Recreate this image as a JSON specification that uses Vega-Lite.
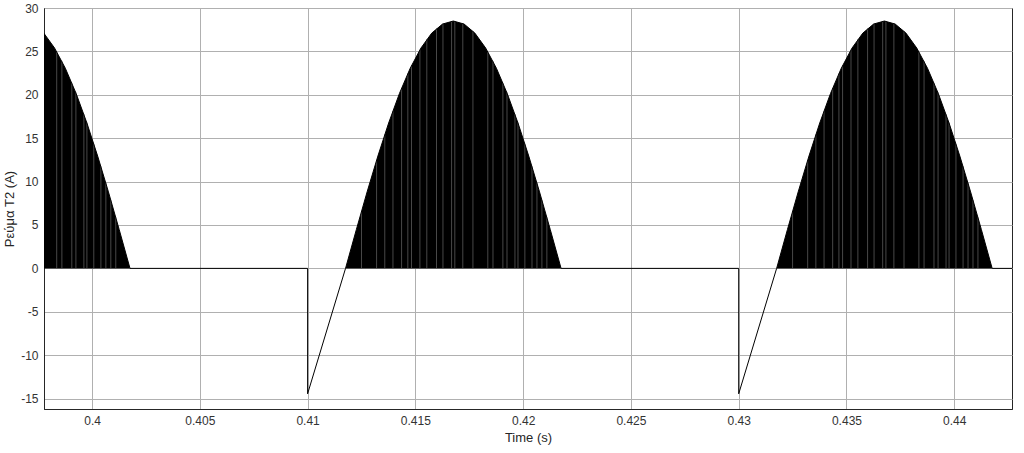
{
  "$schema": "https://vega.github.io/schema/vega-lite/v6.json",
  "width": 968,
  "height": 401,
  "autosize": {"type": "none"},
  "padding": {"left": 44, "top": 8, "right": 12, "bottom": 44},
  "background": "white",
  "config": {
    "view": {"stroke": "#262626", "strokeWidth": 1},
    "axis": {
      "labelFont": "Liberation Sans",
      "labelFontSize": 12,
      "labelColor": "#333333",
      "titleFont": "Liberation Sans",
      "titleFontSize": 13,
      "titleFontWeight": "normal",
      "titleColor": "#262626",
      "gridColor": "#b0b0b0",
      "gridWidth": 1,
      "domainColor": "#262626",
      "ticks": false,
      "labelPadding": 6
    }
  },
  "datasets": {
    "trace": [
      {"n": 1, "t": 0.39776, "i": 27.11},
      {"n": 2, "t": 0.39826, "i": 25.39},
      {"n": 3, "t": 0.39876, "i": 23.06},
      {"n": 4, "t": 0.39926, "i": 20.15},
      {"n": 5, "t": 0.39976, "i": 16.75},
      {"n": 6, "t": 0.40026, "i": 12.94},
      {"n": 7, "t": 0.40076, "i": 8.81},
      {"n": 8, "t": 0.40126, "i": 4.46},
      {"n": 9, "t": 0.40176, "i": 0},
      {"n": 10, "t": 0.41, "i": 0},
      {"n": 11, "t": 0.41, "i": -14.45},
      {"n": 12, "t": 0.41176, "i": 0},
      {"n": 13, "t": 0.41226, "i": 4.46},
      {"n": 14, "t": 0.41276, "i": 8.81},
      {"n": 15, "t": 0.41326, "i": 12.94},
      {"n": 16, "t": 0.41376, "i": 16.75},
      {"n": 17, "t": 0.41426, "i": 20.15},
      {"n": 18, "t": 0.41476, "i": 23.06},
      {"n": 19, "t": 0.41526, "i": 25.39},
      {"n": 20, "t": 0.41576, "i": 27.11},
      {"n": 21, "t": 0.41626, "i": 28.15},
      {"n": 22, "t": 0.41676, "i": 28.5},
      {"n": 23, "t": 0.41726, "i": 28.15},
      {"n": 24, "t": 0.41776, "i": 27.11},
      {"n": 25, "t": 0.41826, "i": 25.39},
      {"n": 26, "t": 0.41876, "i": 23.06},
      {"n": 27, "t": 0.41926, "i": 20.15},
      {"n": 28, "t": 0.41976, "i": 16.75},
      {"n": 29, "t": 0.42026, "i": 12.94},
      {"n": 30, "t": 0.42076, "i": 8.81},
      {"n": 31, "t": 0.42126, "i": 4.46},
      {"n": 32, "t": 0.42176, "i": 0},
      {"n": 33, "t": 0.43, "i": 0},
      {"n": 34, "t": 0.43, "i": -14.45},
      {"n": 35, "t": 0.43176, "i": 0},
      {"n": 36, "t": 0.43226, "i": 4.46},
      {"n": 37, "t": 0.43276, "i": 8.81},
      {"n": 38, "t": 0.43326, "i": 12.94},
      {"n": 39, "t": 0.43376, "i": 16.75},
      {"n": 40, "t": 0.43426, "i": 20.15},
      {"n": 41, "t": 0.43476, "i": 23.06},
      {"n": 42, "t": 0.43526, "i": 25.39},
      {"n": 43, "t": 0.43576, "i": 27.11},
      {"n": 44, "t": 0.43626, "i": 28.15},
      {"n": 45, "t": 0.43676, "i": 28.5},
      {"n": 46, "t": 0.43726, "i": 28.15},
      {"n": 47, "t": 0.43776, "i": 27.11},
      {"n": 48, "t": 0.43826, "i": 25.39},
      {"n": 49, "t": 0.43876, "i": 23.06},
      {"n": 50, "t": 0.43926, "i": 20.15},
      {"n": 51, "t": 0.43976, "i": 16.75},
      {"n": 52, "t": 0.44026, "i": 12.94},
      {"n": 53, "t": 0.44076, "i": 8.81},
      {"n": 54, "t": 0.44126, "i": 4.46},
      {"n": 55, "t": 0.44176, "i": 0},
      {"n": 56, "t": 0.4427, "i": 0}
    ],
    "streaks": [
      {"t": 0.39836, "top": 24.95}, {"t": 0.39860, "top": 23.90}, {"t": 0.39906, "top": 21.38},
      {"t": 0.39925, "top": 20.26}, {"t": 0.39962, "top": 17.78}, {"t": 0.39976, "top": 16.79},
      {"t": 0.40008, "top": 14.34}, {"t": 0.40041, "top": 11.77}, {"t": 0.40064, "top": 9.84},
      {"t": 0.40087, "top": 7.86}, {"t": 0.40110, "top": 5.88},
      {"t": 0.41250, "top": 6.6}, {"t": 0.41320, "top": 12.45}, {"t": 0.41358, "top": 15.44},
      {"t": 0.41396, "top": 18.13}, {"t": 0.41436, "top": 20.78}, {"t": 0.41465, "top": 22.46},
      {"t": 0.41482, "top": 23.38}, {"t": 0.41521, "top": 25.19}, {"t": 0.41553, "top": 26.41},
      {"t": 0.41598, "top": 27.65}, {"t": 0.41628, "top": 28.17}, {"t": 0.41668, "top": 28.49},
      {"t": 0.41683, "top": 28.49}, {"t": 0.41720, "top": 28.22}, {"t": 0.41767, "top": 27.35},
      {"t": 0.41836, "top": 24.95}, {"t": 0.41860, "top": 23.90}, {"t": 0.41906, "top": 21.38},
      {"t": 0.41925, "top": 20.26}, {"t": 0.41962, "top": 17.78}, {"t": 0.41976, "top": 16.79},
      {"t": 0.42008, "top": 14.34}, {"t": 0.42041, "top": 11.77}, {"t": 0.42064, "top": 9.84},
      {"t": 0.42087, "top": 7.86}, {"t": 0.42110, "top": 5.88},
      {"t": 0.43250, "top": 6.6}, {"t": 0.43320, "top": 12.45}, {"t": 0.43358, "top": 15.44},
      {"t": 0.43396, "top": 18.13}, {"t": 0.43436, "top": 20.78}, {"t": 0.43465, "top": 22.46},
      {"t": 0.43482, "top": 23.38}, {"t": 0.43521, "top": 25.19}, {"t": 0.43553, "top": 26.41},
      {"t": 0.43598, "top": 27.65}, {"t": 0.43628, "top": 28.17}, {"t": 0.43668, "top": 28.49},
      {"t": 0.43683, "top": 28.49}, {"t": 0.43720, "top": 28.22}, {"t": 0.43767, "top": 27.35},
      {"t": 0.43836, "top": 24.95}, {"t": 0.43860, "top": 23.90}, {"t": 0.43906, "top": 21.38},
      {"t": 0.43925, "top": 20.26}, {"t": 0.43962, "top": 17.78}, {"t": 0.43976, "top": 16.79},
      {"t": 0.44008, "top": 14.34}, {"t": 0.44041, "top": 11.77}, {"t": 0.44064, "top": 9.84},
      {"t": 0.44087, "top": 7.86}, {"t": 0.44110, "top": 5.88}
    ]
  },
  "layer": [
    {
      "data": {"name": "trace"},
      "transform": [{"filter": "datum.i >= 0"}],
      "mark": {"type": "area", "color": "black", "clip": true, "interpolate": "linear"},
      "encoding": {
        "x": {
          "field": "t", "type": "quantitative",
          "scale": {"domain": [0.39777, 0.44268], "nice": false, "zero": false},
          "axis": {"values": [0.4, 0.405, 0.41, 0.415, 0.42, 0.425, 0.43, 0.435, 0.44], "labelExpr": "toString(datum.value)", "title": "Time (s)", "titlePadding": 5, "grid": true}
        },
        "y": {
          "field": "i", "type": "quantitative",
          "scale": {"domain": [-16.2, 30], "nice": false, "zero": false},
          "axis": {"values": [-15, -10, -5, 0, 5, 10, 15, 20, 25, 30], "labelExpr": "toString(datum.value)", "title": "Ρεύμα T2 (A)", "titlePadding": 4, "grid": true}
        },
        "y2": {"datum": 0}
      }
    },
    {
      "data": {"name": "streaks"},
      "mark": {"type": "rule", "color": "#5a5a5a", "strokeWidth": 1, "opacity": 0.8, "clip": true},
      "encoding": {
        "x": {"field": "t", "type": "quantitative"},
        "y": {"field": "top", "type": "quantitative"},
        "y2": {"datum": 0}
      }
    },
    {
      "data": {"name": "trace"},
      "mark": {"type": "line", "color": "black", "strokeWidth": 1, "clip": true},
      "encoding": {
        "x": {"field": "t", "type": "quantitative"},
        "y": {"field": "i", "type": "quantitative"},
        "order": {"field": "n", "type": "quantitative"}
      }
    }
  ]
}
